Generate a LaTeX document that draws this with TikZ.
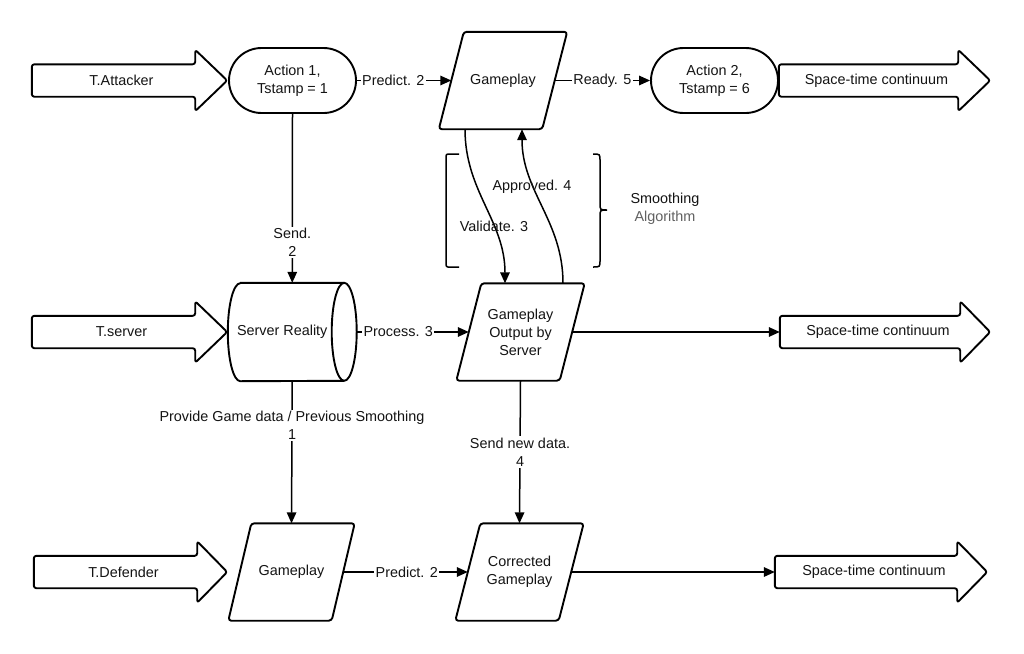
\documentclass[tikz,border=0pt]{standalone}
\usepackage{fontspec}
\setmainfont{Liberation Sans}
\usetikzlibrary{arrows.meta,shapes.misc}
\definecolor{ink}{HTML}{141414}
\tikzset{
  txt/.style={font=\fontsize{14.4}{18}\selectfont, text=ink, align=center, inner sep=1pt},
  shapeline/.style={draw=black, line width=1.9pt, line join=round},
  conn/.style={draw=black, line width=1.5pt, -{Triangle[length=11pt,width=9.5pt]}},
  plainline/.style={draw=black, line width=1.5pt},
  lbl/.style={txt, fill=white, inner sep=1.5pt},
  barbody/.style={rectangle, draw=none, minimum height=32pt, inner sep=0pt},
  parabox/.style={rectangle, draw=none, minimum width=103pt, minimum height=97pt, inner sep=0pt, txt},
  stadium/.style={rounded rectangle, shapeline, minimum width=129pt, minimum height=65pt, inner sep=0pt, txt},
}
% #1 name, #2 tail x, #3 notch x, #4 tip x, #5 y, #6 text
\newcommand\blockarrow[6]{%
  \node[barbody, minimum width={(#3-#2)*1pt}] (#1) at ({(#2+#3)/2},#5) {};
  \draw[shapeline, rounded corners=2.5pt] (#1.north east) -- (#1.north west) -- (#1.south west) -- (#1.south east)
     -- ([yshift=-14.5pt]#1.south east) -- ([xshift={(#4-#3)*1pt}]#1.east) -- ([yshift=14.5pt]#1.north east) -- cycle;
  \node[txt] (#1-t) at ([xshift=8pt]#1.center) {#6};
}
% #1 name, #2 x, #3 y, #4 half slant, #5 text
\newcommand\parabox[5]{%
  \node[parabox] (#1) at (#2,#3) {#5};
  \draw[shapeline, rounded corners=3pt] ([xshift=#4pt]#1.north west) -- ([xshift=#4pt]#1.north east)
     -- ([xshift=-#4pt]#1.south east) -- ([xshift=-#4pt]#1.south west) -- cycle;
}
\begin{document}
\begin{tikzpicture}[x=1pt,y=-1pt]
\useasboundingbox[fill=white] (0,0) rectangle (1024,653);

% ---------- row 1 ----------
\blockarrow{ta}{32}{195}{227}{80.5}{T.Attacker}
\node[stadium] (a1) at (292.5,80.5) {Action 1,\\Tstamp = 1};
\parabox{g1}{503}{80.5}{12.5}{Gameplay}
\node[stadium] (a2) at (714.5,80.5) {Action 2,\\Tstamp = 6};
\blockarrow{st1}{779}{958}{990}{80.5}{Space-time continuum}

% ---------- row 2 ----------
\blockarrow{ts}{32}{195}{227}{332}{T.server}
\node[rectangle, draw=none, minimum width=103.5pt, minimum height=98pt, inner sep=0pt] (sr) at (292.25,332) {};
\draw[shapeline] (sr.north west) -- (sr.north east)
   arc[start angle=90, end angle=-90, x radius=12.5pt, y radius=49pt]
   -- (sr.south west)
   arc[start angle=270, end angle=90, x radius=12.5pt, y radius=49pt] -- cycle;
\draw[shapeline] (sr.north east) arc[start angle=90, end angle=270, x radius=12.5pt, y radius=49pt];
\node[txt] (srt) at ([xshift=-10pt]sr.center) {Server Reality};
\parabox{go}{520.5}{332}{12.5}{Gameplay\\Output by\\Server}
\blockarrow{st2}{780}{960}{990}{332}{Space-time continuum}

% ---------- row 3 ----------
\blockarrow{td}{34}{197}{227}{572}{T.Defender}
\parabox{g3}{291.5}{572}{11.5}{Gameplay}
\parabox{cg}{519.5}{572}{12.5}{Corrected\\Gameplay}
\blockarrow{st3}{775}{957}{987}{572}{Space-time continuum}

% ---------- connectors ----------
\draw[conn] (a1.east) -- node[lbl, pos=0.385] (l1) {Predict. 2} (g1.west);
\draw[conn] (g1.east) -- node[lbl, pos=0.5] (l2) {Ready. 5} (a2.west);
\draw[conn] (a1.south) -- node[lbl, pos=0.76] (l3) {Send.\\2} (sr.north);
\draw[conn] ([xshift=-38pt]g1.south) to[out=-90,in=90] ([xshift=-15.5pt]go.north);
\draw[conn] ([xshift=42.5pt]go.north) to[out=90,in=-90] ([xshift=19pt]g1.south);
\node[txt] (l4) at (494,226) {Validate. 3};
\node[txt] (l5) at (532,187) {Approved. 4};
\draw[conn] ([xshift=12.5pt]sr.east) -- node[lbl, pos=0.37] (l6) {Process. 3} (go.west);
\draw[conn] (go.east) -- (st2.west);
\draw[conn] (sr.south) -- node[lbl, pos=0.31] (l7) {Provide Game data / Previous Smoothing\\1} (g3.north);
\draw[conn] (go.south) -- node[lbl, pos=0.5] (l8) {Send new data.\\4} (cg.north);
\draw[conn] (g3.east) -- node[lbl, pos=0.51] (l9) {Predict. 2} (cg.west);
\draw[conn] (cg.east) -- (st3.west);

% ---------- smoothing bracket and brace ----------
\draw[plainline, rounded corners=2pt] (459,154) -- (446,154) -- (446,267) -- (459,267);
\draw[plainline] (593,154) .. controls (600,154) .. (600,161) -- (600,203)
   .. controls (600,210) .. (607,210) .. controls (600,210) .. (600,217) -- (600,260)
   .. controls (600,267) .. (593,267);
\node[txt] (sm) at (665,209) {Smoothing\\\textcolor{black!62}{Algorithm}};
\end{tikzpicture}
\end{document}
